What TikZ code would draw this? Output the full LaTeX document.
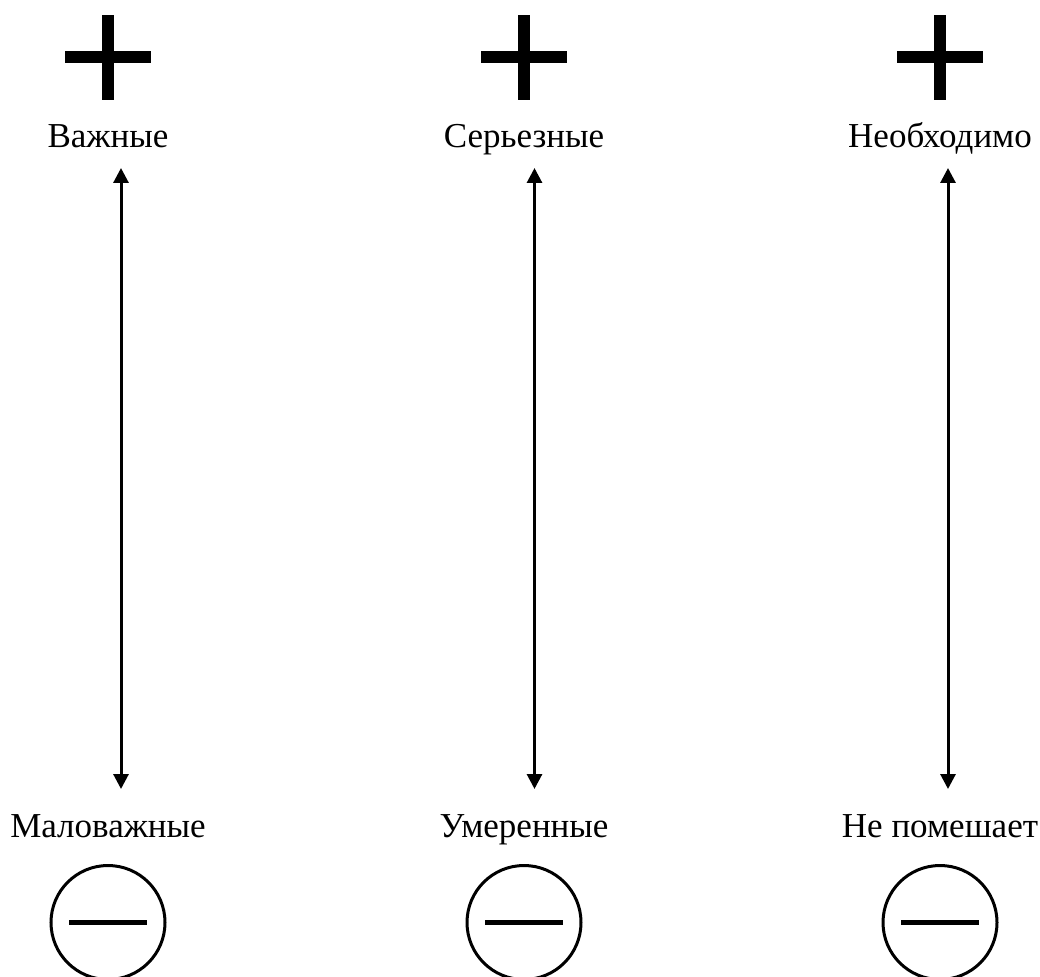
\documentclass[tikz,border=0pt]{standalone}
\usepackage{fontspec}
\setmainfont{Liberation Serif}
\usetikzlibrary{arrows.meta}
\tikzset{
  lbl/.style={anchor=base, inner sep=0pt, font=\fontsize{35}{42}\selectfont},
  axis/.style={line width=3pt, {Triangle[width=15pt,length=15pt]}-{Triangle[width=15pt,length=15pt]}},
  bar/.style={fill=black, draw=none},
  ring/.style={circle, draw=black, line width=3pt, minimum size=114pt, inner sep=0pt},
  dash line/.style={line width=4.5pt}
}
\begin{document}
\begin{tikzpicture}[x=1pt,y=-1pt]
\useasboundingbox (0,0) rectangle (1040,976);
\foreach \cx/\ax/\top/\bot/\n in {108/121/Важные/Маловажные/a, 524/534.5/Серьезные/Умеренные/b, 940/948/Необходимо/Не помешает/c}{
  % plus sign
  \fill[bar] (\cx-6,15) rectangle (\cx+6,100);
  \fill[bar] (\cx-43,51.5) rectangle (\cx+43,63.5);
  % labels
  \node[lbl] (top\n) at (\cx,148) {\top};
  \node[lbl] (bot\n) at (\cx,837) {\bot};
  % axis arrow
  \coordinate (up\n) at (\ax,168);
  \coordinate (dn\n) at (\ax,789);
  \draw[axis] (up\n) -- (dn\n);
  % minus in circle
  \node[ring] (min\n) at (\cx,922.5) {};
  \draw[dash line] ([xshift=-39pt]min\n.center) -- ([xshift=39pt]min\n.center);
}
\end{tikzpicture}
\end{document}
